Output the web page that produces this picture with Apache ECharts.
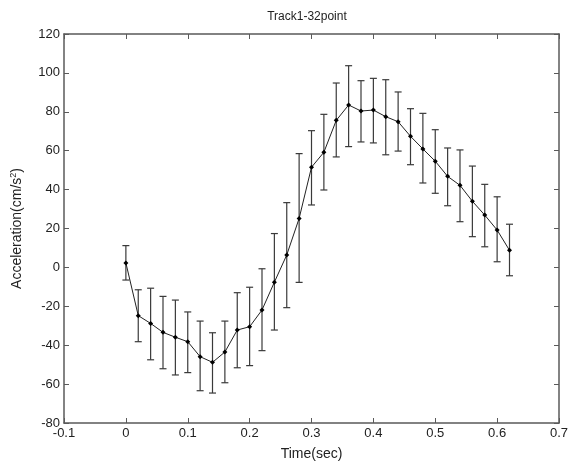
<!DOCTYPE html>
<html>
<head>
<meta charset="utf-8">
<script src="https://cdn.jsdelivr.net/npm/echarts@6/dist/echarts.min.js"></script>
<style>
  html, body { margin: 0; padding: 0; background: #fff; }
  #chart { width: 571px; height: 468px; }
</style>
</head>
<body>
<div id="chart"></div>
<script>
// Sample times (s)
const timeSec = [0, 0.02, 0.04, 0.06, 0.08, 0.10, 0.12, 0.14, 0.16, 0.18,
                 0.20, 0.22, 0.24, 0.26, 0.28, 0.30, 0.32, 0.34, 0.36, 0.38,
                 0.40, 0.42, 0.44, 0.46, 0.48, 0.50, 0.52, 0.54, 0.56, 0.58,
                 0.60, 0.62];
// Mean acceleration (cm/s^2)
const meanAcc = [2.3, -24.8, -28.8, -33.4, -35.9, -38.2, -45.9, -48.8, -43.5, -32.2,
                 -30.5, -21.9, -7.6, 6.4, 25.2, 51.5, 59.2, 75.6, 83.5, 80.4,
                 80.9, 77.5, 74.9, 67.4, 60.9, 54.6, 46.8, 42.2, 34.0, 26.9,
                 19.2, 8.8];
// Lower end of each error bar
const lowerAcc = [-6.5, -38.2, -47.5, -52.1, -55.3, -54.1, -63.4, -64.6, -59.3, -51.6,
                  -50.5, -42.8, -32.2, -20.7, -7.7, 32.1, 39.8, 56.8, 62.1, 64.5,
                  64.0, 57.9, 59.8, 52.8, 43.4, 38.1, 31.7, 23.5, 15.8, 10.6,
                  2.9, -4.3];
// Upper end of each error bar
const upperAcc = [11.2, -11.5, -10.7, -14.9, -16.8, -22.9, -27.6, -33.6, -27.6, -13.0,
                  -10.2, -0.7, 17.4, 33.3, 58.5, 70.3, 78.7, 94.8, 103.7, 96.0,
                  97.2, 96.5, 90.2, 81.6, 79.2, 70.8, 61.4, 60.4, 52.1, 42.7,
                  36.3, 22.2];

const FONT = '"Liberation Sans", Arial, sans-serif';
const AXIS_COLOR = '#5a5a5a';
const TEXT_COLOR = '#222';

const lineData = timeSec.map((t, i) => [t, meanAcc[i]]);
const barData = timeSec.map((t, i) => [t, lowerAcc[i], upperAcc[i]]);

function fmt1(v) { return String(+(+v).toFixed(1)); }

// Box frame: every side gets a line and inward ticks
function frameAxis(extra) {
  return Object.assign({
    axisLine: { show: true, onZero: false, lineStyle: { color: AXIS_COLOR, width: 1.5 } },
    axisTick: { show: true, inside: true, length: 5, lineStyle: { color: AXIS_COLOR, width: 1 } },
    splitLine: { show: false }
  }, extra);
}

const chart = echarts.init(document.getElementById('chart'), null, { renderer: 'canvas' });
chart.setOption({
  animation: false,
  backgroundColor: '#fff',
  title: {
    text: 'Track1-32point',
    left: 302, top: 6, textAlign: 'center',
    textStyle: { fontFamily: FONT, fontSize: 12, fontWeight: 'normal', color: TEXT_COLOR }
  },
  grid: { left: 64, top: 34, right: 12, bottom: 45, containLabel: false, outerBoundsMode: 'none' },
  xAxis: [
    frameAxis({
      type: 'value', position: 'bottom', min: -0.1, max: 0.7, interval: 0.1,
      name: 'Time(sec)', nameLocation: 'middle', nameGap: 24,
      nameTextStyle: { fontFamily: FONT, fontSize: 14, color: TEXT_COLOR },
      axisLabel: { margin: 4, formatter: fmt1, fontFamily: FONT, fontSize: 13, color: TEXT_COLOR }
    }),
    frameAxis({
      type: 'value', position: 'top', min: -0.1, max: 0.7, interval: 0.1,
      axisLabel: { show: false }
    })
  ],
  yAxis: [
    frameAxis({
      type: 'value', position: 'left', min: -80, max: 120, interval: 20,
      name: '{a|Acceleration(cm/s}{s|2}{a|)}', nameLocation: 'middle', nameGap: 39, nameRotate: 90,
      nameTextStyle: {
        rich: {
          a: { fontFamily: FONT, fontSize: 14, color: TEXT_COLOR },
          s: { fontFamily: FONT, fontSize: 9, color: TEXT_COLOR, verticalAlign: 'top', padding: [0, 0, 7, 0] }
        }
      },
      axisLabel: { margin: 4, fontFamily: FONT, fontSize: 13, color: TEXT_COLOR }
    }),
    frameAxis({
      type: 'value', position: 'right', min: -80, max: 120, interval: 20,
      axisLabel: { show: false }
    })
  ],
  series: [
    {
      type: 'custom',
      name: 'error',
      xAxisIndex: 0, yAxisIndex: 0,
      data: barData,
      z: 2,
      renderItem: function (params, api) {
        const x = api.value(0);
        const lo = api.coord([x, api.value(1)]);
        const hi = api.coord([x, api.value(2)]);
        const cap = 3.5;
        const style = { stroke: '#3a3a3a', lineWidth: 1.2, fill: null };
        return {
          type: 'group',
          children: [
            { type: 'line', shape: { x1: lo[0], y1: lo[1], x2: hi[0], y2: hi[1] }, style: style },
            { type: 'line', shape: { x1: hi[0] - cap, y1: hi[1], x2: hi[0] + cap, y2: hi[1] }, style: style },
            { type: 'line', shape: { x1: lo[0] - cap, y1: lo[1], x2: lo[0] + cap, y2: lo[1] }, style: style }
          ]
        };
      }
    },
    {
      type: 'line',
      name: 'mean',
      xAxisIndex: 0, yAxisIndex: 0,
      data: lineData,
      z: 3,
      symbol: 'diamond',
      symbolSize: 5,
      itemStyle: { color: '#000' },
      lineStyle: { color: '#222', width: 1 }
    }
  ]
});
</script>
</body>
</html>
